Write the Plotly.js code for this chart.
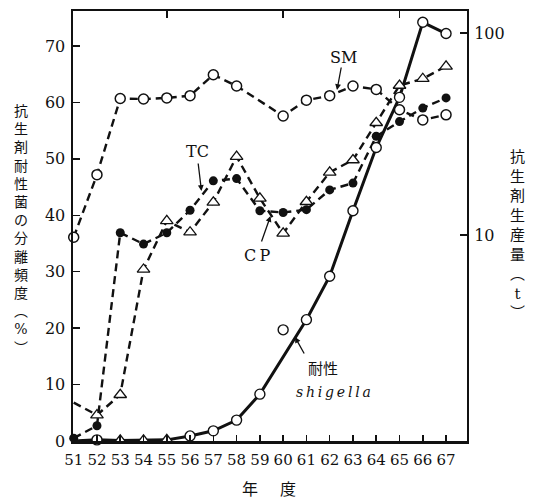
<!DOCTYPE html>
<html><head><meta charset="utf-8">
<script src="https://cdn.plot.ly/plotly-3.0.1.min.js"></script>
<style>html,body{margin:0;padding:0;background:#fff}#chart{width:536px;height:501px}</style>
</head><body><div id="chart"></div>
<script>
// ---- data ----
const years = [51,52,53,54,55,56,57,58,59,60,61,62,63,64,65,66,67];
const smValues       = [36.1,47.2,60.7,60.6,60.8,61.2,64.9,62.9,null,57.6,60.4,61.2,62.9,62.3,58.7,56.9,57.8];
const tcValues       = [0.5,2.7,36.9,34.9,36.9,40.9,46.1,46.5,40.8,40.5,41.0,44.5,45.7,54.0,56.6,59.0,60.8];
const cpValues       = [6.8,4.6,8.2,30.4,39.0,37.0,42.3,50.4,43.0,36.8,42.4,47.6,49.8,56.4,63.0,64.2,66.4];
const shigellaValues = [0,0.2,0.1,0.1,0.2,0.9,1.8,3.7,8.3,19.7,21.5,29.2,40.8,52.0,60.9,74.2,72.2];
const shigellaOutlierYear = 60;
const yTickVals = [0,10,20,30,40,50,60,70];
const topTickYears = [55,60,65];
const productionTickVals = [10,100];
const leftTitle = ['抗','生','剤','耐','性','菌','の','分','離','頻','度','︵','%','︶'];
const rightTitle = ['抗','生','剤','生','産','量','︵','t','︶'];

// ---- geometry helpers (plot area in pixels) ----
const L = 73, R = 467, T = 11, B = 441;
const px = p => (p - L) / (R - L);
const py = p => (B - p) / (B - T);

const ink = '#111';
const dashStyle = '8px,5px';
const serif = 'DejaVu Serif, serif';
const cjk = 'Noto Sans CJK JP, sans-serif';

const shigellaLineX = years.filter(y => y !== shigellaOutlierYear);
const shigellaLineY = shigellaValues.filter((v, i) => years[i] !== shigellaOutlierYear);

const traces = [
  {x: shigellaLineX, y: shigellaLineY, mode: 'lines', line: {color: ink, width: 3}, hoverinfo: 'skip', cliponaxis: false},
  {x: years, y: smValues, mode: 'lines+markers', connectgaps: true, cliponaxis: false,
   line: {color: ink, width: 2.4, dash: dashStyle},
   marker: {symbol: 'circle', size: 10, color: '#ffffff', line: {color: ink, width: 1.5}}},
  {x: years, y: cpValues, mode: 'lines+markers', cliponaxis: false,
   line: {color: ink, width: 2.4, dash: dashStyle},
   marker: {symbol: 'triangle-up', size: [0,11,11,11,11,11,11,11,11,11,11,11,11,11,11,11,11], color: '#ffffff', opacity: 1, line: {color: ink, width: 1.3}}},
  {x: years, y: tcValues, mode: 'lines+markers', cliponaxis: false,
   line: {color: ink, width: 2.4, dash: dashStyle},
   marker: {symbol: 'circle', size: 9, color: ink}},
  {x: years, y: shigellaValues, mode: 'markers', cliponaxis: false,
   marker: {symbol: ['circle','circle','triangle-up','triangle-up','triangle-up','circle','circle','circle','circle','circle','circle','circle','circle','circle','circle','circle','circle'],
            size: [0,10,11,11,11,10,10,10,10,10,10,10,10,10,10,10,10], color: '#ffffff', opacity: 1, line: {color: ink, width: 1.4}}},
  {x: [years[0]], y: [productionTickVals[0]], xaxis: 'x2', yaxis: 'y2', mode: 'markers',
   marker: {opacity: 0}, hoverinfo: 'skip', showlegend: false}
];

const xr = [50.97, 67.9];
const annotations = [];
function txt(x, y, text, font) {
  annotations.push({xref: 'paper', yref: 'paper', x: px(x), y: py(y), text: text, showarrow: false,
    xanchor: 'center', yanchor: 'middle', font: font});
}
function arrow(tx, ty, hx, hy) {
  annotations.push({xref: 'paper', yref: 'paper', x: px(hx), y: py(hy), ax: tx - hx, ay: ty - hy,
    text: '', showarrow: true, arrowhead: 2, arrowsize: 0.9, arrowwidth: 1.3, arrowcolor: ink});
}
txt(343, 57, 'SM', {family: serif, size: 16, color: ink});
arrow(341.5, 66, 337, 90);
txt(197, 152, 'TC', {family: serif, size: 16, color: ink});
arrow(198, 162, 201.5, 191);
txt(257, 255, 'C\u2009P', {family: serif, size: 16, color: ink});
arrow(261, 243, 270.5, 216);
txt(323, 367, '耐性', {family: cjk, size: 15, color: ink});
txt(333, 392, '<i>s\u2009h\u2009i\u2009g\u2009e\u2009l\u2009l\u2009a</i>', {family: serif, size: 14, color: ink});
arrow(305, 355, 295, 337);

function verticalText(chars, latin) {
  return chars.map(c => latin.includes(c) ? '<span style="font-family:DejaVu Serif">' + c + '</span>' : c).join('<br>');
}
txt(21, 229, verticalText(leftTitle, ['%']), {family: cjk, size: 14, color: ink});
txt(517, 233, verticalText(rightTitle, ['t']), {family: cjk, size: 15, color: ink});
txt(250, 488, '年', {family: cjk, size: 16, color: ink});
txt(288, 488, '度', {family: cjk, size: 16, color: ink});

const layout = {
  width: 536, height: 501,
  margin: {l: L, r: 536 - R, t: T, b: 501 - B, pad: 0},
  paper_bgcolor: '#fff', plot_bgcolor: '#fff',
  showlegend: false, hovermode: false,
  xaxis: {range: xr, tickvals: years, ticktext: years.map(String), ticks: 'inside', ticklen: 6, tickwidth: 1.5,
    tickcolor: ink, showline: true, linewidth: 2.5, linecolor: ink, showgrid: false, zeroline: false,
    ticklabelstandoff: 3, tickfont: {family: serif, size: 15, color: ink}},
  yaxis: {range: [0, 76.2], tickvals: yTickVals, ticks: 'inside', ticklen: 7, tickwidth: 1.5, tickcolor: ink,
    showline: true, linewidth: 2.5, linecolor: ink, showgrid: false, zeroline: false,
    ticklabelstandoff: 2, tickfont: {family: serif, size: 16, color: ink}},
  xaxis2: {overlaying: 'x', side: 'top', anchor: 'y', range: xr, tickvals: topTickYears, ticks: 'inside', ticklen: 7,
    tickwidth: 1.5, tickcolor: ink, showticklabels: false, showline: true, linewidth: 2, linecolor: ink,
    showgrid: false, zeroline: false},
  yaxis2: {overlaying: 'y', side: 'right', anchor: 'x', type: 'log', range: [-0.021, 2.11], tickvals: productionTickVals,
    ticktext: productionTickVals.map(String), ticks: 'inside', ticklen: 7, tickwidth: 1.5, tickcolor: ink,
    showline: true, linewidth: 2, linecolor: ink, showgrid: false, zeroline: false,
    ticklabelstandoff: 2, tickfont: {family: serif, size: 16, color: ink}},
  annotations: annotations
};

Plotly.newPlot('chart', traces, layout, {staticPlot: true, displayModeBar: false});
</script>
</body></html>
